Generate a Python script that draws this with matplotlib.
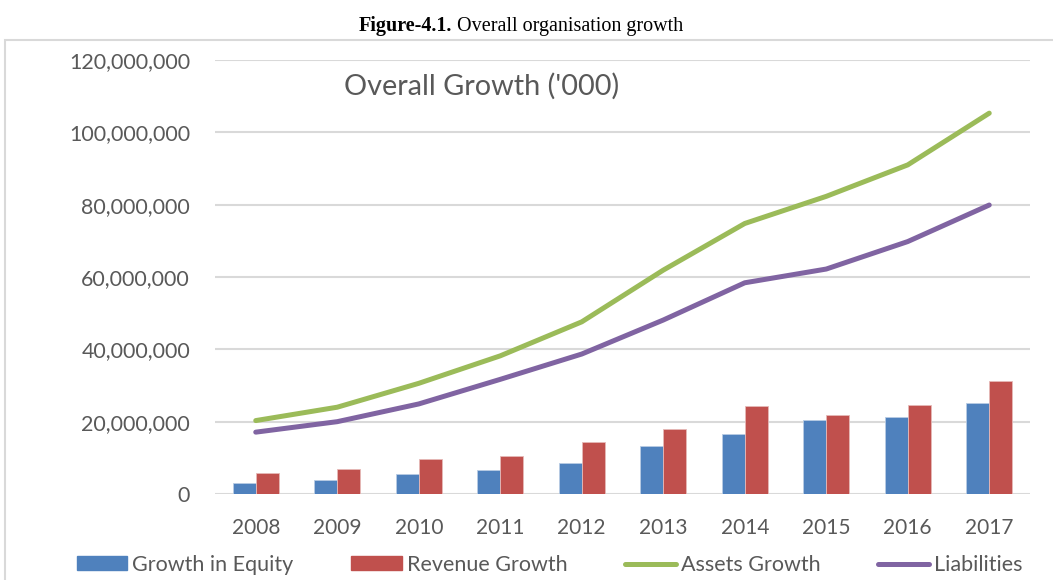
import matplotlib
matplotlib.use("Agg")
import matplotlib.pyplot as plt
from matplotlib.patches import Rectangle
from matplotlib.lines import Line2D
from matplotlib.ticker import FuncFormatter
import numpy as np

years = ["2008", "2009", "2010", "2011", "2012", "2013", "2014", "2015", "2016", "2017"]
equity = [3.0e6, 3.9e6, 5.5e6, 6.6e6, 8.7e6, 13.3e6, 16.5e6, 20.4e6, 21.4e6, 25.2e6]
revenue = [5.7e6, 6.9e6, 9.7e6, 10.5e6, 14.3e6, 18.0e6, 24.3e6, 21.8e6, 24.7e6, 31.2e6]
assets = [20.3e6, 24.0e6, 30.6e6, 38.2e6, 47.6e6, 61.9e6, 74.8e6, 82.3e6, 91.0e6, 105.3e6]
liabilities = [17.1e6, 20.0e6, 24.9e6, 31.7e6, 38.7e6, 48.1e6, 58.4e6, 62.2e6, 69.8e6, 79.9e6]
series_names = ["Growth in Equity", "Revenue Growth", "Assets Growth", "Liabilities"]
chart_title = "Overall Growth ('000)"

c_blue, c_red, c_green, c_purple = "#4F81BD", "#C0504D", "#9BBB59", "#8064A2"
txt = "#595959"
font = "Lato"

fig = plt.figure(figsize=(10.53, 5.80), dpi=100)
# chart frame
fig.patches.append(Rectangle((5/1053, -0.05), 1.2, 1 - 40/580 + 0.05, transform=fig.transFigure,
                             fill=False, edgecolor="#d9d9d9", linewidth=1.5))
fig.text(452/1053, 1 - 31/580, "Figure-4.1.", ha="right", va="baseline",
         family="Liberation Serif", fontsize=14.5, fontweight="bold", color="black")
fig.text(457/1053, 1 - 31/580, "Overall organisation growth", ha="left", va="baseline",
         family="Liberation Serif", fontsize=14.5, color="black")

ax = fig.add_axes([215/1053, 1 - 494/580, (1030 - 215)/1053, (494 - 60)/580])
x = np.arange(len(years))
w = 0.28
ax.bar(x - w/2, equity, width=w, color=c_blue, edgecolor="#b8cce4", linewidth=0.6, zorder=3)
ax.bar(x + w/2, revenue, width=w, color=c_red, edgecolor="#e6b9b8", linewidth=0.6, zorder=3)
ax.plot(x, assets, color=c_green, linewidth=3.6, solid_capstyle="round", solid_joinstyle="round", zorder=4)
ax.plot(x, liabilities, color=c_purple, linewidth=3.6, solid_capstyle="round", solid_joinstyle="round", zorder=4)

ax.set_xlim(-0.5, len(years) - 0.5)
ax.set_ylim(0, 120e6)
ax.set_yticks(np.arange(0, 120e6 + 1, 20e6))
ax.yaxis.set_major_formatter(FuncFormatter(lambda v, p: f"{int(v):,}"))
ax.set_xticks(x)
ax.set_xticklabels(years)
for s in ax.spines.values():
    s.set_visible(False)
ax.grid(axis="y", color="#d9d9d9", linewidth=1.5, zorder=0)
ax.set_axisbelow(True)
ax.tick_params(axis="both", length=0, labelcolor=txt)
ax.tick_params(axis="y", pad=18, labelsize=15.4)
ax.tick_params(axis="x", pad=17, labelsize=15)
for lab in ax.get_xticklabels() + ax.get_yticklabels():
    lab.set_family(font)
ax.text(0.158, 0.94, chart_title, transform=ax.transAxes, ha="left", va="center",
        family=font, fontsize=20.8, color=txt)

handles = [Rectangle((0, 0), 1, 1, color=c_blue), Rectangle((0, 0), 1, 1, color=c_red),
           Line2D([], [], color=c_green, linewidth=3.6, solid_capstyle="round"),
           Line2D([], [], color=c_purple, linewidth=3.6, solid_capstyle="round")]
leg = fig.legend(handles, series_names, loc="center", bbox_to_anchor=(0.5218, 1 - 565/580), ncol=4,
                 frameon=False, handlelength=2.35, handleheight=0.62, handletextpad=0.22,
                 columnspacing=2.7, prop={"family": font, "size": 15.5})
for t in leg.get_texts():
    t.set_color(txt)

fig.savefig("out.png", dpi=100)
